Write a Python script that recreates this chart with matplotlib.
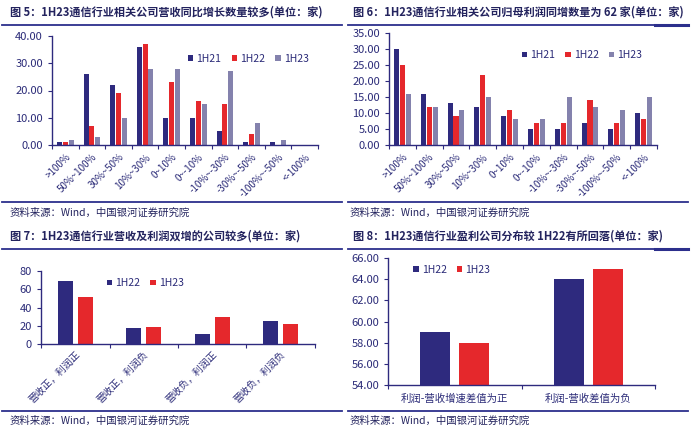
import matplotlib
matplotlib.use('Agg')
import matplotlib.pyplot as plt
import numpy as np
from matplotlib.lines import Line2D

plt.rcParams['font.family'] = ['Noto Sans CJK SC', 'DejaVu Sans']

NAVY = '#2e2a7e'
RED = '#e5282c'
GREY = '#8482ad'
TXT = '#2b2b78'
LINE = '#2c2f8c'

# data
cats_growth = ['>100%', '50%~100%', '30%~50%', '10%~30%', '0~10%', '0~-10%',
               '-10%~-30%', '-30%~-50%', '-100%~-50%', '<-100%']
rev_1h21 = [1, 26, 22, 36, 10, 10, 5, 1, 1, 0]
rev_1h22 = [1, 7, 19, 37, 23, 16, 15, 4, 0, 0]
rev_1h23 = [2, 3, 10, 28, 28, 15, 27, 8, 2, 0]

prof_1h21 = [30, 16, 13, 12, 9, 5, 5, 7, 5, 10]
prof_1h22 = [25, 12, 9, 22, 11, 7, 7, 14, 7, 8]
prof_1h23 = [16, 12, 11, 15, 8, 8, 15, 12, 11, 15]

cats_both = ['营收正，利润正', '营收正，利润负', '营收负，利润正', '营收负，利润负']
both_1h22 = [69, 18, 11, 25]
both_1h23 = [52, 19, 30, 22]

cats_gap = ['利润-营收增速差值为正', '利润-营收差值为负']
gap_1h22 = [59, 64]
gap_1h23 = [58, 65]

titles = ['图 5：1H23通信行业相关公司营收同比增长数量较多(单位：家)',
          '图 6：1H23通信行业相关公司归母利润同增数量为 62 家(单位：家)',
          '图 7：1H23通信行业营收及利润双增的公司较多(单位：家)',
          '图 8：1H23通信行业盈利公司分布较 1H22有所回落(单位：家)']
source = '资料来源：Wind，中国银河证券研究院'

W, H = 700, 434
fig = plt.figure(figsize=(W / 100, H / 100), dpi=100)


def px(l, t, r, b):
    return [l / W, 1 - b / H, (r - l) / W, (b - t) / H]


def hline(x0, x1, y, lw=1.3):
    fig.add_artist(Line2D([x0 / W, x1 / W], [1 - y / H, 1 - y / H], color=LINE, lw=lw))


def style(ax):
    for s in ['top', 'right']:
        ax.spines[s].set_visible(False)
    for s in ['left', 'bottom']:
        ax.spines[s].set_color(NAVY)
        ax.spines[s].set_linewidth(1.0)
    ax.tick_params(colors=NAVY, labelcolor=TXT, length=3, width=0.8)
    ax.tick_params(axis='y', labelsize=8)


def bars3(ax, a, b, c, ymax, step):
    x = np.arange(len(cats_growth))
    w = 0.19
    d = 0.22
    ax.bar(x - d, a, w, color=NAVY, label='1H21')
    ax.bar(x, b, w, color=RED, label='1H22')
    ax.bar(x + d, c, w, color=GREY, label='1H23')
    ax.set_xlim(-0.5, len(x) - 0.5)
    ax.set_ylim(0, ymax)
    ax.set_yticks(np.arange(0, ymax + 0.01, step))
    ax.set_yticklabels(['%.2f' % v for v in np.arange(0, ymax + 0.01, step)])
    ax.set_xticks(x)
    ax.set_xticklabels(cats_growth, rotation=45, ha='right', rotation_mode='anchor', fontsize=7)
    ax.set_xticks(np.arange(-0.5, len(x), 1.0), minor=True)
    style(ax)
    ax.tick_params(axis='x', length=0, pad=5)
    ax.tick_params(axis='x', which='minor', length=3, color=NAVY, width=0.8)


# chart 5
ax5 = fig.add_axes(px(52, 36, 318, 145))
bars3(ax5, rev_1h21, rev_1h22, rev_1h23, 40, 10)
ax5.legend(loc='upper right', bbox_to_anchor=(1.0, 0.92), ncol=3, frameon=False, fontsize=7.5,
           handlelength=0.5, handleheight=0.5, handletextpad=0.3, columnspacing=1.0,
           labelcolor=TXT)

# chart 6
ax6 = fig.add_axes(px(389, 33, 657, 145))
bars3(ax6, prof_1h21, prof_1h22, prof_1h23, 35, 5)
ax6.legend(loc='upper right', bbox_to_anchor=(0.98, 0.93), ncol=3, frameon=False, fontsize=7.5,
           handlelength=0.5, handleheight=0.5, handletextpad=0.3, columnspacing=1.0,
           labelcolor=TXT)

# chart 7
ax7 = fig.add_axes(px(41, 271, 315, 344))
x = np.arange(len(cats_both))
ax7.bar(x - 0.146, both_1h22, 0.22, color=NAVY, label='1H22')
ax7.bar(x + 0.146, both_1h23, 0.22, color=RED, label='1H23')
ax7.set_xlim(-0.5, len(x) - 0.5)
ax7.set_ylim(0, 80)
ax7.set_yticks([0, 20, 40, 60, 80])
ax7.set_xticks(x)
ax7.set_xticklabels(cats_both, rotation=45, ha='right', rotation_mode='anchor', fontsize=7)
ax7.set_xticks(np.arange(-0.5, len(x), 1.0), minor=True)
style(ax7)
ax7.tick_params(axis='x', length=0, pad=4)
ax7.tick_params(axis='x', which='minor', length=3, color=NAVY, width=0.8)
ax7.legend(loc='upper center', bbox_to_anchor=(0.38, 1.03), ncol=2, frameon=False, fontsize=7.5,
           handlelength=0.5, handleheight=0.5, handletextpad=0.3, columnspacing=1.0,
           labelcolor=TXT)

# chart 8
ax8 = fig.add_axes(px(388, 258, 655, 385))
x = np.arange(len(cats_gap))
ax8.bar(x - 0.146, gap_1h22, 0.225, color=NAVY, label='1H22')
ax8.bar(x + 0.146, gap_1h23, 0.225, color=RED, label='1H23')
ax8.set_xlim(-0.5, len(x) - 0.5)
ax8.set_ylim(54, 66)
ax8.set_yticks(np.arange(54, 66.1, 2))
ax8.set_yticklabels(['%.2f' % v for v in np.arange(54, 66.1, 2)])
ax8.set_xticks(x)
ax8.set_xticklabels(cats_gap, fontsize=7.5)
ax8.set_xticks(np.arange(-0.5, len(x), 1.0), minor=True)
style(ax8)
ax8.tick_params(axis='x', length=0, pad=6)
ax8.tick_params(axis='x', which='minor', length=3, color=NAVY, width=0.8)
ax8.legend(loc='upper left', bbox_to_anchor=(0.06, 1.02), ncol=2, frameon=False, fontsize=7.5,
           handlelength=0.5, handleheight=0.5, handletextpad=0.3, columnspacing=1.0,
           labelcolor=TXT)

# titles, rules and sources
pos = [(10, 12), (353, 12), (10, 236), (353, 236)]
for (tx, ty), t in zip(pos, titles):
    fig.text(tx / W, 1 - ty / H, t, fontsize=8, color='#23235e', va='center', ha='left',
             fontweight='bold')

hline(2, 342, 25)
hline(348, 688, 25)
hline(655, 688, 25, lw=2.2)
hline(2, 342, 249)
hline(348, 688, 249)
hline(655, 688, 249, lw=2.2)
hline(2, 342, 202)
hline(348, 688, 202)
hline(2, 342, 411)
hline(348, 688, 411)

for sx, sy in [(10, 213), (350, 213), (10, 421), (350, 421)]:
    fig.text(sx / W, 1 - sy / H, source, fontsize=7.5, color='#23235e', va='center', ha='left',
             style='italic')

fig.savefig('out.png', dpi=100, facecolor='white')
